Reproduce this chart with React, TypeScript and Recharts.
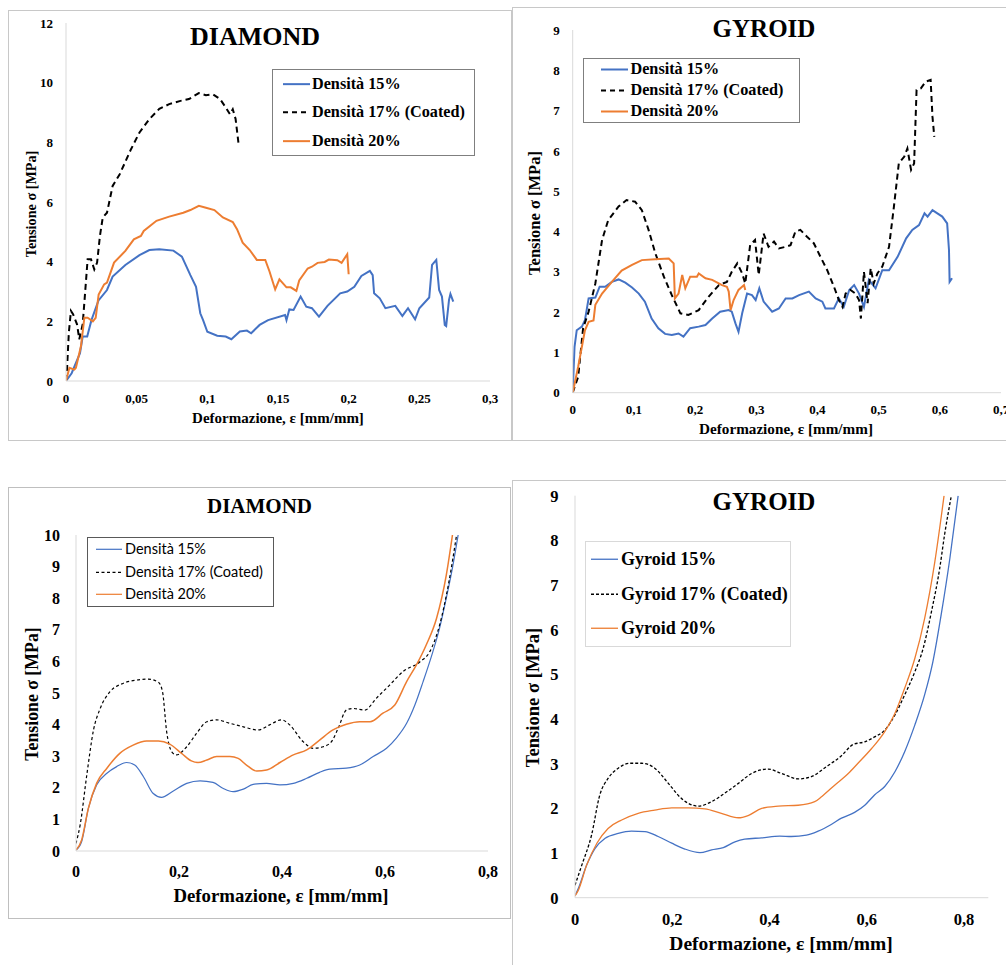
import React from 'react';
import { LineChart, Line, XAxis, YAxis, Legend } from 'recharts';

const SERIF = '"Liberation Serif", "Times New Roman", serif';
const SANS = 'Lato, "Open Sans", Arial, sans-serif';
const BLUE = '#4472C4';
const ORANGE = '#ED7D31';
const BLACK = '#000000';

// ---------- Tick values ----------
const ticksX1 = [0, 0.05, 0.1, 0.15, 0.2, 0.25, 0.3];
const ticksY1 = [0, 2, 4, 6, 8, 10, 12];
const ticksX2 = [0, 0.1, 0.2, 0.3, 0.4, 0.5, 0.6, 0.7];
const ticksY2 = [0, 1, 2, 3, 4, 5, 6, 7, 8, 9];
const ticksX3 = [0, 0.2, 0.4, 0.6, 0.8];
const ticksY3 = [0, 1, 2, 3, 4, 5, 6, 7, 8, 9, 10];
const ticksX4 = [0, 0.2, 0.4, 0.6, 0.8];
const ticksY4 = [0, 1, 2, 3, 4, 5, 6, 7, 8, 9];

// ---------- Series names ----------
const namesDensita = ['Densità 15%', 'Densità 17% (Coated)', 'Densità 20%'];
const namesGyroid = ['Gyroid 15%', 'Gyroid 17% (Coated)', 'Gyroid 20%'];
const titles = ['DIAMOND', 'GYROID', 'DIAMOND', 'GYROID'];

// ---------- Panel 1: DIAMOND experimental ----------
const diamondExp15 = [
  [0, 0], [0.004, 0.26], [0.0099, 0.93], [0.0118, 1.49], [0.015, 1.49], [0.018, 2.04], [0.023, 2.7],
  [0.029, 3.05], [0.033, 3.5], [0.042, 3.89], [0.052, 4.22], [0.059, 4.39], [0.066, 4.42], [0.076, 4.37],
  [0.082, 4.17], [0.088, 3.55], [0.092, 3.16], [0.095, 2.27], [0.097, 2.04], [0.1, 1.65], [0.107, 1.52],
  [0.113, 1.49], [0.117, 1.4], [0.123, 1.66], [0.128, 1.69], [0.131, 1.6], [0.137, 1.88], [0.143, 2.04],
  [0.155, 2.21], [0.156, 2.04], [0.158, 2.4], [0.161, 2.38], [0.166, 2.83], [0.17, 2.49], [0.174, 2.44],
  [0.179, 2.16], [0.185, 2.52], [0.194, 2.94], [0.199, 3.0], [0.204, 3.16], [0.209, 3.52], [0.215, 3.69],
  [0.217, 3.55], [0.218, 2.94], [0.222, 2.77], [0.226, 2.44], [0.233, 2.52], [0.238, 2.18], [0.242, 2.44],
  [0.247, 2.07], [0.25, 2.44], [0.257, 2.8], [0.259, 3.89], [0.262, 4.06], [0.264, 3.05], [0.266, 2.83],
  [0.268, 1.88], [0.269, 1.84], [0.271, 2.72], [0.272, 2.92], [0.274, 2.66],
];
const diamondExp17 = [
  [0, 0], [0.0007, 0.38], [0.002, 1.62], [0.0035, 2.35], [0.005, 2.24], [0.0078, 1.9], [0.0094, 1.4],
  [0.0118, 1.9], [0.0137, 3.07], [0.0153, 4.08], [0.0177, 4.08], [0.02, 3.74], [0.022, 3.97], [0.024, 4.86],
  [0.026, 5.48], [0.029, 5.64], [0.033, 6.54], [0.038, 6.93], [0.0417, 7.32], [0.046, 7.77], [0.052, 8.33],
  [0.059, 8.78], [0.066, 9.12], [0.073, 9.28], [0.081, 9.39], [0.087, 9.45], [0.094, 9.65], [0.099, 9.58],
  [0.104, 9.61], [0.109, 9.45], [0.113, 9.17], [0.116, 8.94], [0.118, 9.11], [0.12, 8.78], [0.122, 7.99],
];
const diamondExp20 = [
  [0, 0], [0.0024, 0.44], [0.0059, 0.38], [0.007, 0.44], [0.0106, 1.17], [0.013, 2.12], [0.0153, 2.12],
  [0.019, 2.0], [0.021, 2.12], [0.0231, 2.9], [0.027, 3.24], [0.029, 3.3], [0.034, 3.97], [0.042, 4.36],
  [0.048, 4.75], [0.053, 4.86], [0.055, 5.03], [0.064, 5.37], [0.073, 5.51], [0.083, 5.64], [0.088, 5.73],
  [0.094, 5.87], [0.099, 5.81], [0.105, 5.73], [0.111, 5.48], [0.118, 5.33], [0.121, 5.09], [0.125, 4.64],
  [0.13, 4.39], [0.135, 4.06], [0.141, 4.06], [0.144, 3.67], [0.147, 3.22], [0.148, 3.07], [0.151, 3.41],
  [0.156, 3.14], [0.159, 3.14], [0.163, 3.02], [0.165, 3.37], [0.171, 3.77], [0.174, 3.83], [0.178, 3.96],
  [0.183, 3.99], [0.186, 4.07], [0.192, 4.05], [0.195, 3.96], [0.199, 4.25], [0.2, 3.58],
];

// ---------- Panel 2: GYROID experimental ----------
const gyroidExp15 = [
  [0, 0], [0.003, 1.14], [0.0066, 1.55], [0.015, 1.64], [0.02, 1.8], [0.026, 2.34], [0.037, 2.36],
  [0.044, 2.63], [0.053, 2.63], [0.064, 2.75], [0.075, 2.81], [0.086, 2.73], [0.097, 2.61], [0.108, 2.46],
  [0.118, 2.26], [0.129, 1.84], [0.14, 1.6], [0.151, 1.46], [0.162, 1.43], [0.173, 1.47], [0.181, 1.39],
  [0.192, 1.6], [0.206, 1.64], [0.217, 1.68], [0.228, 1.84], [0.241, 2.01], [0.255, 2.05], [0.26, 2.01],
  [0.266, 1.72], [0.271, 1.51], [0.277, 1.97], [0.285, 2.46], [0.293, 2.42], [0.299, 2.3], [0.305, 2.59],
  [0.312, 2.26], [0.326, 2.01], [0.337, 2.09], [0.348, 2.34], [0.359, 2.34], [0.37, 2.42], [0.386, 2.51],
  [0.397, 2.34], [0.408, 2.26], [0.413, 2.09], [0.427, 2.09], [0.435, 2.34], [0.443, 2.13], [0.452, 2.55],
  [0.46, 2.67], [0.468, 2.46], [0.476, 2.13], [0.484, 2.8], [0.495, 2.59], [0.506, 3.04], [0.517, 3.04],
  [0.531, 3.37], [0.545, 3.83], [0.555, 4.04], [0.566, 4.16], [0.575, 4.45], [0.58, 4.37], [0.588, 4.53],
  [0.596, 4.45], [0.604, 4.37], [0.612, 4.2], [0.615, 3.54], [0.616, 2.75], [0.62, 2.84],
];
const gyroidExp17 = [
  [0, 0], [0.009, 0.4], [0.017, 1.6], [0.026, 2.01], [0.037, 2.71], [0.048, 3.79], [0.058, 4.28],
  [0.075, 4.62], [0.088, 4.78], [0.102, 4.74], [0.113, 4.53], [0.124, 4.04], [0.135, 3.46], [0.149, 2.88],
  [0.162, 2.42], [0.176, 1.97], [0.189, 1.93], [0.206, 2.05], [0.222, 2.38], [0.239, 2.67], [0.252, 2.75],
  [0.26, 3.0], [0.269, 3.21], [0.277, 2.96], [0.282, 2.71], [0.29, 3.66], [0.298, 3.79], [0.304, 2.92],
  [0.312, 3.95], [0.32, 3.62], [0.329, 3.75], [0.337, 3.58], [0.348, 3.62], [0.356, 3.66], [0.364, 4.0],
  [0.372, 4.04], [0.383, 3.87], [0.394, 3.71], [0.405, 3.37], [0.416, 3.04], [0.427, 2.63], [0.435, 2.3],
  [0.441, 2.13], [0.446, 2.46], [0.454, 2.55], [0.462, 2.46], [0.468, 2.3], [0.471, 1.84], [0.476, 3.0],
  [0.482, 2.22], [0.487, 3.09], [0.492, 2.71], [0.498, 2.96], [0.506, 3.13], [0.517, 3.62], [0.525, 4.62],
  [0.533, 5.69], [0.542, 5.86], [0.547, 6.06], [0.553, 5.53], [0.558, 5.69], [0.562, 7.51], [0.569, 7.55],
  [0.577, 7.72], [0.585, 7.76], [0.588, 6.85], [0.591, 6.35],
];
const gyroidExp20 = [
  [0, 0], [0.009, 0.65], [0.02, 1.55], [0.026, 1.76], [0.034, 1.79], [0.037, 2.18], [0.048, 2.46],
  [0.064, 2.75], [0.08, 3.03], [0.097, 3.17], [0.113, 3.29], [0.135, 3.31], [0.157, 3.33], [0.165, 3.21],
  [0.167, 2.34], [0.173, 2.46], [0.179, 2.92], [0.184, 2.59], [0.192, 2.88], [0.203, 2.88], [0.206, 2.96],
  [0.217, 2.84], [0.228, 2.8], [0.244, 2.67], [0.252, 2.63], [0.255, 2.51], [0.258, 2.05], [0.263, 2.3],
  [0.271, 2.55], [0.28, 2.67], [0.282, 2.55],
];

// ---------- Panel 3: DIAMOND smoothed ----------
const diamondFit15 = [
  [0, 0.03], [0.011, 0.3], [0.024, 1.35], [0.04, 2.09], [0.06, 2.46], [0.079, 2.67], [0.098, 2.8],
  [0.114, 2.72], [0.131, 2.35], [0.15, 1.82], [0.166, 1.7], [0.189, 1.9], [0.215, 2.14], [0.241, 2.22],
  [0.266, 2.17], [0.286, 1.98], [0.305, 1.88], [0.325, 1.96], [0.344, 2.11], [0.37, 2.14], [0.396, 2.09],
  [0.422, 2.14], [0.448, 2.3], [0.473, 2.49], [0.493, 2.59], [0.525, 2.62], [0.551, 2.72], [0.577, 2.99],
  [0.603, 3.25], [0.622, 3.57], [0.642, 4.04], [0.658, 4.62], [0.674, 5.36], [0.693, 6.31], [0.706, 7.05],
  [0.719, 8.0], [0.732, 9.05], [0.742, 10.0],
];
const diamondFit17 = [
  [0, 0.24], [0.008, 0.82], [0.021, 2.41], [0.034, 3.83], [0.047, 4.51], [0.066, 5.04], [0.092, 5.31],
  [0.118, 5.41], [0.14, 5.44], [0.16, 5.34], [0.168, 5.04], [0.176, 3.78], [0.186, 3.14], [0.195, 3.04],
  [0.215, 3.3], [0.234, 3.72], [0.254, 4.09], [0.273, 4.15], [0.299, 4.04], [0.325, 3.93], [0.354, 3.83],
  [0.376, 3.99], [0.399, 4.15], [0.415, 3.99], [0.441, 3.46], [0.461, 3.25], [0.48, 3.3], [0.496, 3.46],
  [0.509, 3.88], [0.525, 4.46], [0.538, 4.51], [0.561, 4.46], [0.583, 4.83], [0.609, 5.25], [0.635, 5.68],
  [0.668, 5.99], [0.687, 6.31], [0.706, 7.15], [0.723, 8.42], [0.739, 10.0],
];
const diamondFit20 = [
  [0, 0.03], [0.011, 0.35], [0.024, 1.35], [0.04, 2.14], [0.06, 2.62], [0.085, 3.09], [0.111, 3.35],
  [0.137, 3.48], [0.16, 3.48], [0.182, 3.38], [0.205, 3.09], [0.224, 2.85], [0.237, 2.8], [0.254, 2.88],
  [0.273, 2.99], [0.299, 2.99], [0.315, 2.93], [0.331, 2.72], [0.351, 2.53], [0.37, 2.56], [0.396, 2.8],
  [0.422, 3.04], [0.448, 3.2], [0.473, 3.51], [0.499, 3.83], [0.525, 4.01], [0.551, 4.09], [0.571, 4.09],
  [0.596, 4.36], [0.619, 4.62], [0.642, 5.36], [0.661, 5.89], [0.68, 6.52], [0.7, 7.36], [0.719, 8.73],
  [0.731, 10.0],
];

// ---------- Panel 4: GYROID smoothed ----------
const gyroidFit15 = [
  [0, 0.04], [0.007, 0.21], [0.024, 0.73], [0.041, 1.1], [0.062, 1.33], [0.089, 1.44], [0.116, 1.49],
  [0.144, 1.48], [0.171, 1.37], [0.199, 1.22], [0.226, 1.09], [0.257, 1.01], [0.281, 1.07], [0.305, 1.12],
  [0.329, 1.25], [0.349, 1.31], [0.384, 1.34], [0.421, 1.38], [0.445, 1.37], [0.476, 1.4], [0.5, 1.49],
  [0.527, 1.64], [0.548, 1.78], [0.575, 1.91], [0.596, 2.07], [0.616, 2.3], [0.637, 2.49], [0.658, 2.82],
  [0.678, 3.27], [0.699, 3.87], [0.719, 4.54], [0.736, 5.28], [0.753, 6.33], [0.771, 7.6], [0.788, 9.0],
];
const gyroidFit17 = [
  [0, 0.28], [0.014, 0.73], [0.034, 1.4], [0.051, 2.3], [0.068, 2.67], [0.089, 2.9], [0.113, 3.01],
  [0.137, 3.01], [0.164, 2.9], [0.192, 2.56], [0.219, 2.22], [0.253, 2.05], [0.281, 2.15], [0.308, 2.34],
  [0.336, 2.56], [0.363, 2.78], [0.397, 2.88], [0.425, 2.78], [0.459, 2.66], [0.486, 2.71], [0.514, 2.91],
  [0.548, 3.18], [0.572, 3.43], [0.596, 3.49], [0.616, 3.6], [0.637, 3.75], [0.658, 4.09], [0.678, 4.54],
  [0.699, 5.06], [0.716, 5.58], [0.733, 6.4], [0.75, 7.37], [0.76, 8.12], [0.774, 9.0],
];
const gyroidFit20 = [
  [0, 0.04], [0.007, 0.17], [0.024, 0.73], [0.045, 1.22], [0.068, 1.55], [0.096, 1.74], [0.13, 1.89],
  [0.164, 1.96], [0.199, 2.01], [0.233, 2.01], [0.267, 1.99], [0.301, 1.89], [0.336, 1.79], [0.356, 1.84],
  [0.384, 2.0], [0.418, 2.05], [0.459, 2.07], [0.493, 2.15], [0.507, 2.26], [0.534, 2.52], [0.562, 2.78],
  [0.582, 3.01], [0.61, 3.34], [0.637, 3.72], [0.658, 4.13], [0.678, 4.69], [0.699, 5.36], [0.719, 6.25],
  [0.74, 7.52], [0.759, 9.0],
];

// ---------- helpers ----------
const toPts = (a: number[][]) => a.map(([x, y]) => ({ x, y }));
const fmt = (v: number) => String(v).replace('.', ',');

type Series = { name: string; data: number[][]; color: string; dash?: string; width: number };
type LegendCfg = {
  left: number; top: number; width: number; rowH: number; lineX: number; lineW: number; textX: number;
  font: string; fontSize: number; bold: boolean; border: string; dash: string; lineWidth: number;
};
type PanelCfg = {
  box: { left: number; top: number; width: number; height: number };
  margin: { top: number; right: number; bottom: number; left: number };
  xDomain: [number, number]; xTicks: number[]; yDomain: [number, number]; yTicks: number[];
  tickFont: number; xGap: number; yGap: number; curve: 'linear' | 'monotone';
  series: Series[]; legend: LegendCfg;
};

function LegendBox({ cfg, series }: { cfg: LegendCfg; series: Series[] }) {
  return (
    <div
      style={{
        width: cfg.width, boxSizing: 'border-box', border: cfg.border, background: '#fff',
        fontFamily: cfg.font, fontSize: cfg.fontSize, fontWeight: cfg.bold ? 'bold' : 'normal', color: '#000',
      }}
    >
      {series.map((s) => (
        <div key={s.name} style={{ position: 'relative', height: cfg.rowH }}>
          <svg style={{ position: 'absolute', left: cfg.lineX, top: 0 }} width={cfg.lineW} height={cfg.rowH}>
            <line x1={0} x2={cfg.lineW} y1={cfg.rowH / 2} y2={cfg.rowH / 2} stroke={s.color}
              strokeWidth={cfg.lineWidth} strokeDasharray={s.dash ? cfg.dash : undefined} />
          </svg>
          <span style={{ position: 'absolute', left: cfg.textX, top: 0, lineHeight: `${cfg.rowH}px`, whiteSpace: 'nowrap' }}>
            {s.name}
          </span>
        </div>
      ))}
    </div>
  );
}

function Panel({ cfg, borderColor }: { cfg: PanelCfg; borderColor: string }) {
  const { box } = cfg;
  const tick = { fill: '#000', fontSize: cfg.tickFont, fontFamily: SERIF, fontWeight: 'bold' };
  return (
    <div style={{ position: 'absolute', left: box.left, top: box.top, width: box.width, height: box.height }}>
      <div style={{ position: 'absolute', inset: 0, border: `1px solid ${borderColor}`, boxSizing: 'border-box' }} />
      <LineChart width={box.width} height={box.height} margin={cfg.margin}>
        <XAxis type="number" dataKey="x" domain={cfg.xDomain} ticks={cfg.xTicks} interval={0}
          tickFormatter={fmt} height={30} tickLine={false} tickSize={0} tickMargin={cfg.xGap}
          axisLine={{ stroke: '#d9d9d9' }} tick={tick} allowDataOverflow />
        <YAxis type="number" dataKey="y" domain={cfg.yDomain} ticks={cfg.yTicks} interval={0}
          width={40} tickLine={false} tickSize={0} tickMargin={cfg.yGap}
          axisLine={{ stroke: '#d9d9d9' }} tick={tick} allowDataOverflow />
        <Legend layout="vertical" align="center" verticalAlign="middle"
          wrapperStyle={{ left: cfg.legend.left, top: cfg.legend.top, width: cfg.legend.width }}
          content={() => <LegendBox cfg={cfg.legend} series={cfg.series} />} />
        {cfg.series.map((s) => (
          <Line key={s.name} name={s.name} data={toPts(s.data)} dataKey="y" type={cfg.curve}
            stroke={s.color} strokeWidth={s.width} strokeDasharray={s.dash} dot={false}
            activeDot={false} isAnimationActive={false} />
        ))}
      </LineChart>
    </div>
  );
}

const panel1: PanelCfg = {
  box: { left: 8, top: 10, width: 504, height: 431 },
  margin: { top: 13, right: 22, bottom: 30, left: 18 },
  xDomain: [0, 0.3], xTicks: ticksX1, yDomain: [0, 12], yTicks: ticksY1,
  tickFont: 13, xGap: 13, yGap: 13, curve: 'linear',
  series: [
    { name: namesDensita[0], data: diamondExp15, color: BLUE, width: 2 },
    { name: namesDensita[1], data: diamondExp17, color: BLACK, width: 2, dash: '6 4' },
    { name: namesDensita[2], data: diamondExp20, color: ORANGE, width: 2 },
  ],
  legend: { left: 264, top: 59, width: 203, rowH: 28.3, lineX: 10, lineW: 27, textX: 39, font: SERIF, fontSize: 16.2,
    bold: true, border: '1.5px solid #7f7f7f', dash: '5 4', lineWidth: 2 },
};

const panel2: PanelCfg = {
  box: { left: 512, top: 7, width: 500, height: 434 },
  margin: { top: 23, right: 11, bottom: 18.3, left: 20.7 },
  xDomain: [0, 0.7], xTicks: ticksX2, yDomain: [0, 9], yTicks: ticksY2,
  tickFont: 13, xGap: 12, yGap: 13, curve: 'linear',
  series: [
    { name: namesDensita[0], data: gyroidExp15, color: BLUE, width: 2 },
    { name: namesDensita[1], data: gyroidExp17, color: BLACK, width: 2, dash: '6 4' },
    { name: namesDensita[2], data: gyroidExp20, color: ORANGE, width: 2 },
  ],
  legend: { left: 71, top: 51, width: 217, rowH: 21, lineX: 16.5, lineW: 27, textX: 46.5, font: SERIF, fontSize: 16.2,
    bold: true, border: '1.5px solid #7f7f7f', dash: '5 4', lineWidth: 2 },
};

const panel3: PanelCfg = {
  box: { left: 8, top: 487, width: 503, height: 432 },
  margin: { top: 48, right: 23, bottom: 38, left: 28 },
  xDomain: [0, 0.8], xTicks: ticksX3, yDomain: [0, 10], yTicks: ticksY3,
  tickFont: 16, xGap: 15, yGap: 16, curve: 'monotone',
  series: [
    { name: namesDensita[0], data: diamondFit15, color: BLUE, width: 1.2 },
    { name: namesDensita[1], data: diamondFit17, color: BLACK, width: 1.2, dash: '3 2.5' },
    { name: namesDensita[2], data: diamondFit20, color: ORANGE, width: 1.5 },
  ],
  legend: { left: 79, top: 50, width: 187, rowH: 22.6, lineX: 8, lineW: 26, textX: 37, font: SANS, fontSize: 14.5,
    bold: false, border: '1px solid #595959', dash: '3 2.5', lineWidth: 1.2 },
};

const panel4: PanelCfg = {
  box: { left: 512, top: 480, width: 500, height: 490 },
  margin: { top: 15.7, right: 23.7, bottom: 42.3, left: 23 },
  xDomain: [0, 0.85], xTicks: ticksX4, yDomain: [0, 9], yTicks: ticksY4,
  tickFont: 16.5, xGap: 16, yGap: 16.5, curve: 'monotone',
  series: [
    { name: namesGyroid[0], data: gyroidFit15, color: BLUE, width: 1.3 },
    { name: namesGyroid[1], data: gyroidFit17, color: BLACK, width: 1.3, dash: '3 2' },
    { name: namesGyroid[2], data: gyroidFit20, color: ORANGE, width: 1.3 },
  ],
  legend: { left: 73, top: 61, width: 206, rowH: 34.5, lineX: 5, lineW: 27, textX: 35, font: SERIF, fontSize: 18,
    bold: true, border: '1px solid #d9d9d9', dash: '3 2', lineWidth: 1.3 },
};

const titleSpecs = [
  { x: 255, y: 45, size: 26 },
  { x: 764, y: 37, size: 25 },
  { x: 259.5, y: 513, size: 21 },
  { x: 764, y: 510, size: 25 },
];
const xLabelSpecs = [
  { x: 278, y: 423, size: 15 },
  { x: 786, y: 434, size: 15.2 },
  { x: 281, y: 901.5, size: 18.8 },
  { x: 781, y: 950, size: 19.5 },
];
const yLabelSpecs = [
  { x: 35.5, y: 204, size: 14.2 },
  { x: 539.5, y: 213, size: 16.5 },
  { x: 38, y: 694, size: 17.8 },
  { x: 538.5, y: 697.5, size: 18.6 },
];

export default function App() {
  return (
    <div style={{ position: 'absolute', left: 0, top: 0, width: 1006, height: 965, overflow: 'hidden', background: '#fff' }}>
      <Panel cfg={panel1} borderColor="#c8c8c8" />
      <Panel cfg={panel2} borderColor="#c8c8c8" />
      <Panel cfg={panel3} borderColor="#bfbfbf" />
      <Panel cfg={panel4} borderColor="#c8c8c8" />
      <svg width={1006} height={965} style={{ position: 'absolute', left: 0, top: 0, pointerEvents: 'none' }}>
        {titleSpecs.map((t, i) => (
          <text key={`t${i}`} x={t.x} y={t.y} textAnchor="middle" fontFamily={SERIF} fontWeight="bold" fontSize={t.size} fill="#000">
            {titles[i]}
          </text>
        ))}
        {xLabelSpecs.map((t, i) => (
          <text key={`x${i}`} x={t.x} y={t.y} textAnchor="middle" fontFamily={SERIF} fontWeight="bold" fontSize={t.size} fill="#000">
            Deformazione, ε [mm/mm]
          </text>
        ))}
        {yLabelSpecs.map((t, i) => (
          <text key={`y${i}`} x={t.x} y={t.y} textAnchor="middle" fontFamily={SERIF} fontWeight="bold" fontSize={t.size} fill="#000"
            transform={`rotate(-90 ${t.x} ${t.y})`}>
            Tensione σ [MPa]
          </text>
        ))}
      </svg>
    </div>
  );
}
